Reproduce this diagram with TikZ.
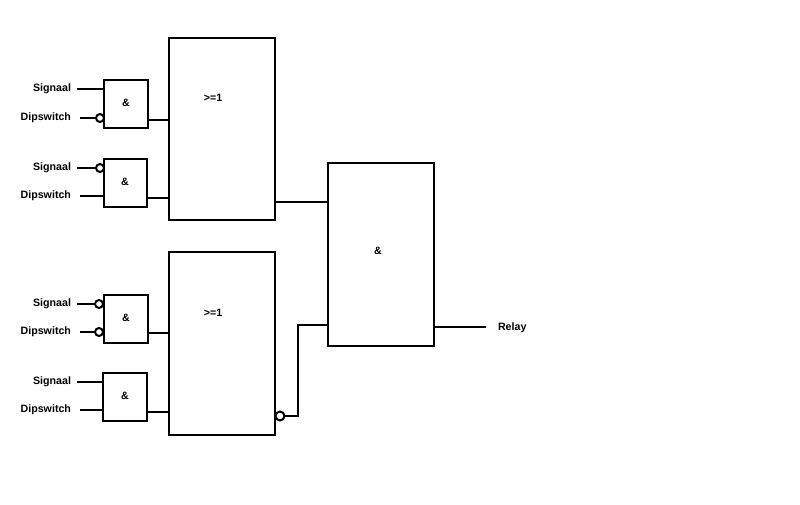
\documentclass[tikz,border=0pt]{standalone}
\usepackage{fontspec}
\setmainfont{Liberation Sans}
\begin{document}
\begin{tikzpicture}[x=0.75pt,y=-0.75pt,line width=1.5pt,
  lbl/.style={font=\bfseries\fontsize{8}{9}\selectfont,inner sep=0pt},
  gate/.style={draw,line width=1.3pt}]
\fill[white] (0,0) rectangle (800,504);
\clip (0,0) rectangle (800,504);
\useasboundingbox (0,0) rectangle (800,504);
% small gates
\draw[gate] (104,80) rectangle (148,128); \node[lbl] (g1) at (126,103) {\&};
\draw[gate] (104,159) rectangle (147,207); \node[lbl] (g2) at (125,182) {\&};
\draw[gate] (104,295) rectangle (148,343); \node[lbl] (g3) at (126,318) {\&};
\draw[gate] (103,373) rectangle (147,421); \node[lbl] (g4) at (125,396) {\&};
% big blocks
\draw[gate] (169,38) rectangle (275,220); \node[lbl] (or1) at (213,98) {>=1};
\draw[gate] (169,252) rectangle (275,435); \node[lbl] (or2) at (213,313) {>=1};
\draw[gate] (328,163) rectangle (434,346); \node[lbl] (and) at (378,251) {\&};
% input labels
\foreach \y/\t in {89/Signaal,118/Dipswitch,168/Signaal,196/Dipswitch,304/Signaal,332/Dipswitch,382/Signaal,410/Dipswitch}
  \node[lbl,anchor=east] at (72,\y) {\t};
% input lines
\draw (77,89) -- (104,89);
\draw (80,118) -- (96,118); \draw (100,118) circle (4);
\draw (77,168) -- (96,168); \draw (100,168) circle (4);
\draw (80,196) -- (104,196);
\draw (77,304) -- (95,304); \draw (99,304) circle (4);
\draw (80,332) -- (95,332); \draw (99,332) circle (4);
\draw (77,382) -- (103,382);
\draw (80,410) -- (103,410);
% outputs of small gates
\draw (148,120) -- (169,120);
\draw (147,198) -- (169,198);
\draw (148,333) -- (169,333);
\draw (147,412) -- (169,412);
% or outputs
\draw (275,202) -- (328,202);
\draw (280,416) circle (4.5);
\draw (284.5,416) -- (298,416) -- (298,325) -- (328,325);
% relay
\draw (434,327) -- (486,327);
\node[lbl,anchor=west] (relay) at (497,328) {Relay};
\end{tikzpicture}
\end{document}
